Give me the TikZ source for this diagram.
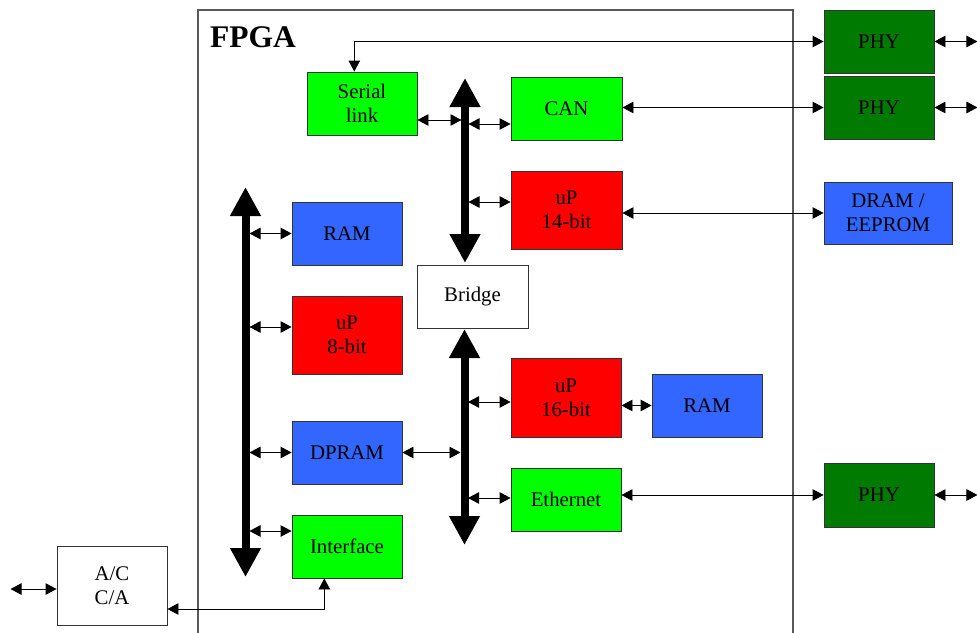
\documentclass[tikz,border=0pt]{standalone}
\usepackage{fontspec}
\setmainfont{Liberation Serif}
\usetikzlibrary{arrows.meta,calc}
\definecolor{bgreen}{HTML}{00FF00}
\definecolor{bred}{HTML}{FF0000}
\definecolor{bblue}{HTML}{3366FF}
\definecolor{dgreen}{HTML}{007A00}
\definecolor{edge}{HTML}{333333}
\tikzset{
  blk/.style={draw=edge, line width=0.9pt, align=center, inner sep=0pt,
    minimum width=110pt, minimum height=63pt, font=\fontsize{20.8}{24}\selectfont},
  conn/.style={line width=0.9pt, {Triangle[length=11pt,width=11.5pt]}-{Triangle[length=11pt,width=11.5pt]}},
  bus/.style={line width=8pt, {Triangle[length=29pt,width=29pt]}-{Triangle[length=29pt,width=29pt]}},
}
\begin{document}
\begin{tikzpicture}[x=1pt,y=-1pt]
\useasboundingbox (0,0) rectangle (977,632);
% FPGA frame
\draw[draw=black!65, line width=1.2pt] (198,640) -- (198,10) -- (793,10) -- (793,640);
\node[anchor=base west, font=\fontsize{31.5}{31.5}\selectfont\bfseries, inner sep=0pt] (fpga) at (210,47) {FPGA};
% blocks
\node[blk, fill=bgreen] (serial) at (362,103.5) {Serial\\link};
\node[blk, fill=bgreen, minimum width=111pt] (can) at (566.5,108.5) {CAN};
\node[blk, fill=bred, minimum width=111pt, minimum height=78pt] (up14) at (566.5,210) {uP\\14-bit};
\node[blk, fill=bblue] (ramL) at (347,233.5) {RAM};
\node[blk, fill=bred, minimum height=78pt] (up8) at (347,335) {uP\\8-bit};
\node[blk, fill=white, minimum width=111pt] (bridge) at (472.5,296.5) {Bridge};
\node[blk, fill=bred, minimum height=79pt] (up16) at (566,397.5) {uP\\16-bit};
\node[blk, fill=bblue] (ramR) at (707,405.5) {RAM};
\node[blk, fill=bgreen] (eth) at (566,499.5) {Ethernet};
\node[blk, fill=bblue] (dpram) at (347,452.5) {DPRAM};
\node[blk, fill=bgreen] (iface) at (347,546.5) {Interface};
\node[blk, fill=white, minimum height=79pt] (ac) at (112,585.5) {A/C\\C/A};
\node[blk, fill=dgreen] (phy1) at (879,41.5) {PHY};
\node[blk, fill=dgreen] (phy2) at (879,107.5) {PHY};
\node[blk, fill=bblue, minimum width=128pt, minimum height=62pt] (dram) at (888,213) {DRAM /\\EEPROM};
\node[blk, fill=dgreen, minimum height=64pt] (phy3) at (879,495) {PHY};
% buses
\coordinate (LBt) at (245.5,187);
\coordinate (LBb) at (245.5,577);
\coordinate (UBt) at (465,78);
\coordinate (UBb) at (465,263);
\coordinate (DBt) at (464.5,329);
\coordinate (DBb) at (464.5,545);
\draw[bus] (LBt) -- (LBb);
\draw[bus] (UBt) -- (UBb);
\draw[bus] (DBt) -- (DBb);
\coordinate (LBr) at (249.5,0);
\coordinate (UBl) at (461.5,0);
\coordinate (UBr) at (468.5,0);
\coordinate (DBl) at (460.5,0);
\coordinate (DBr) at (468,0);
% left bus links
\draw[conn] (LBr |- ramL.west) -- (ramL.west);
\draw[conn] (LBr |- 0,327) -- (up8.west |- 0,327);
\draw[conn] (LBr |- dpram.west) -- (dpram.west);
\draw[conn] (LBr |- 0,531) -- (iface.west |- 0,531);
% upper bus links
\draw[conn] (serial.east |- 0,120) -- (UBl |- 0,120);
\draw[conn] (UBr |- 0,124) -- (can.west |- 0,124);
\draw[conn] (UBr |- 0,202) -- (up14.west |- 0,202);
% lower bus links
\draw[conn] (dpram.east) -- (DBl |- dpram.east);
\draw[conn] (DBr |- 0,402) -- (up16.west |- 0,402);
\draw[conn] (DBr |- 0,498) -- (eth.west |- 0,498);
\draw[conn] (up16.east |- ramR.west) -- (ramR.west);
% external links
\draw[conn] (phy1.west) -| ([xshift=-7.7pt]serial.north);
\draw[conn] (can.east |- phy2.west) -- (phy2.west);
\draw[conn] (up14.east |- dram.west) -- (dram.west);
\draw[conn] (eth.east |- phy3.west) -- (phy3.west);
\draw[conn] (phy1.east) -- +(43,0);
\draw[conn] (phy2.east) -- +(43,0);
\draw[conn] (phy3.east) -- +(43,0);
\draw[conn] ([yshift=-3.5pt]ac.west) -- +(-46,0);
\draw[conn] (ac.east |- 0,609) -| ([xshift=-22.7pt]iface.south);
\end{tikzpicture}
\end{document}
